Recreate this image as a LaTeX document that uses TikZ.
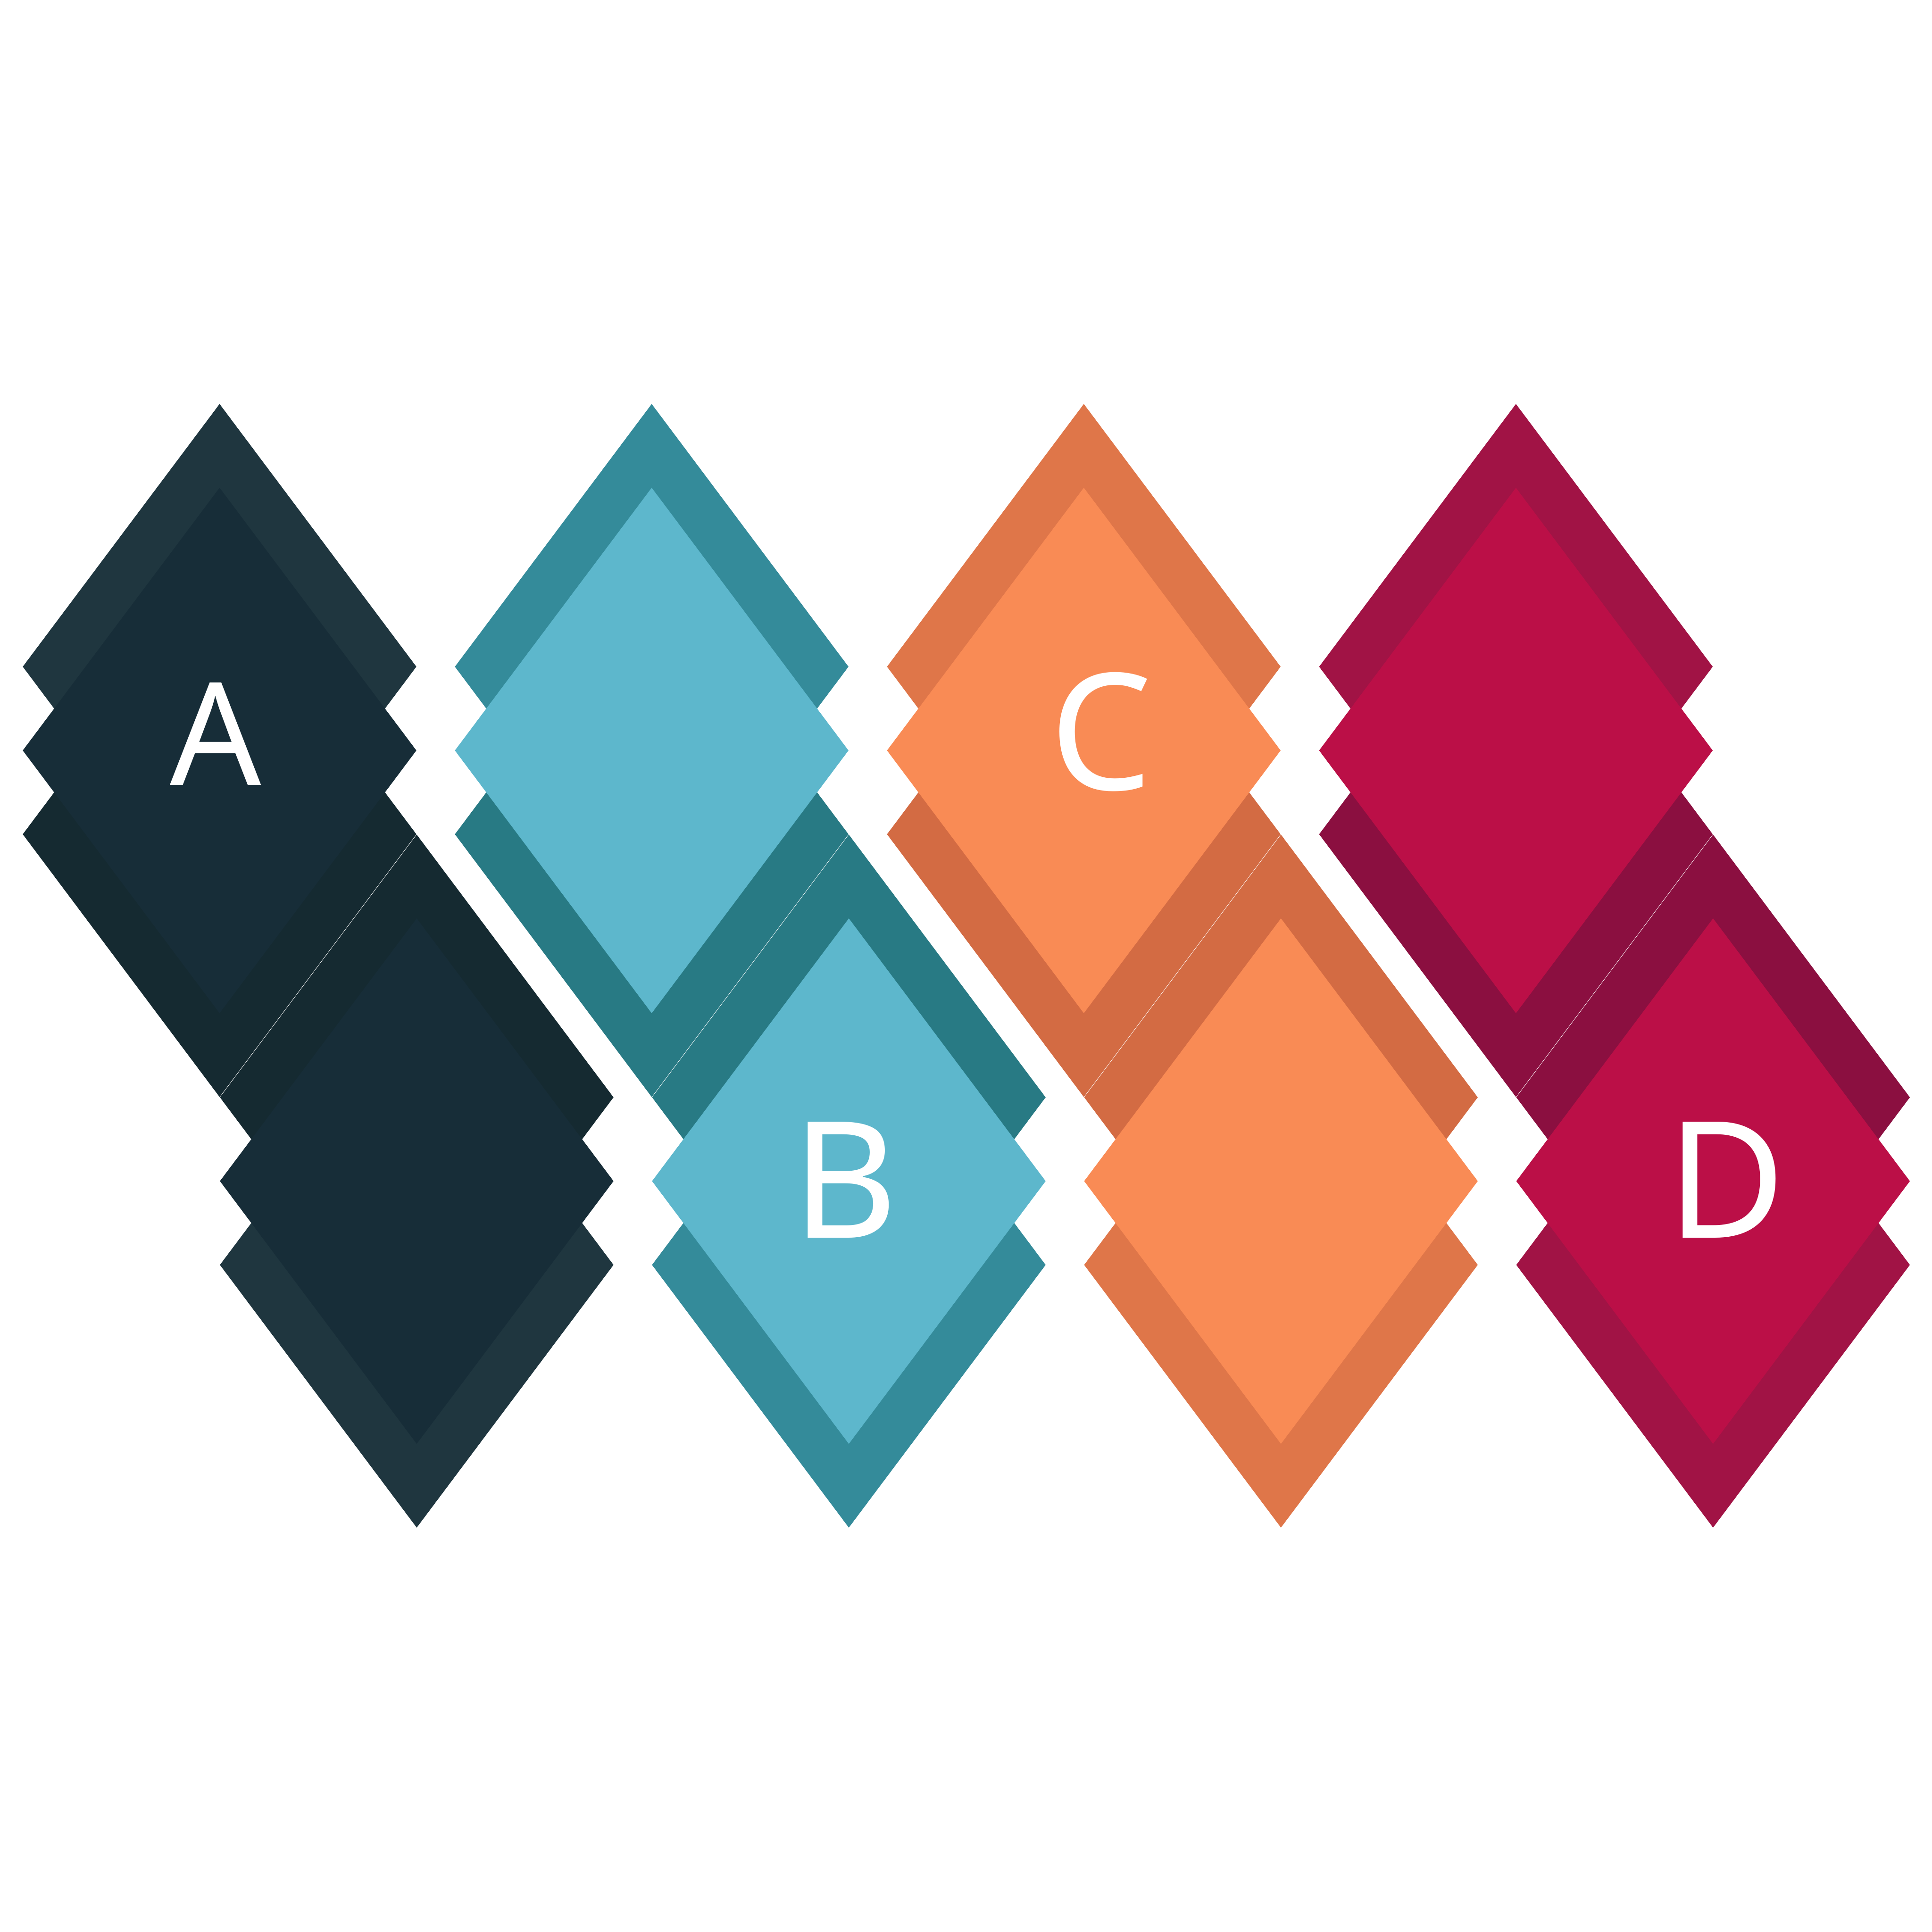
\documentclass[tikz,border=0pt]{standalone}
\usepackage{fontspec}
\setmainfont{Noto Sans}
\usetikzlibrary{shapes.geometric,positioning}

\definecolor{inkhi}{HTML}{1F363F}
\definecolor{inkmid}{HTML}{172D38}
\definecolor{inklo}{HTML}{152A31}
\definecolor{tealhi}{HTML}{348B9A}
\definecolor{tealmid}{HTML}{5DB7CC}
\definecolor{teallo}{HTML}{287A84}
\definecolor{peachhi}{HTML}{DF7649}
\definecolor{peachmid}{HTML}{F98B55}
\definecolor{peachlo}{HTML}{D36B43}
\definecolor{winehi}{HTML}{A11345}
\definecolor{winemid}{HTML}{BB0F47}
\definecolor{winelo}{HTML}{8B0F40}

\tikzset{
  gem/.style={diamond, inner sep=0pt, minimum width=3.2cm, minimum height=4.27cm},
  letter/.style={text=white, font=\fontsize{37.5}{37.5}\selectfont, anchor=base, inner sep=0pt},
}

\begin{document}
\begin{tikzpicture}
\useasboundingbox (0,0) rectangle (15.68,15.68);

\coordinate (a) at (1.782,9.589);
\coordinate (b) at (3.382,6.094);
\coordinate (c) at (5.289,9.589);
\coordinate (d) at (6.889,6.094);
\coordinate (e) at (8.796,9.589);
\coordinate (f) at (10.396,6.094);
\coordinate (g) at (12.303,9.589);
\coordinate (h) at (13.903,6.094);

% top row
\node[gem, fill=inkhi] (a-up) at ([yshift=6.8mm]a) {};
\node[gem, fill=inklo] (a-low) at ([yshift=-6.8mm]a) {};
\node[gem, fill=inkmid] (a-mid) at (a) {};

\node[gem, fill=tealhi] (c-up) at ([yshift=6.8mm]c) {};
\node[gem, fill=teallo] (c-low) at ([yshift=-6.8mm]c) {};
\node[gem, fill=tealmid] (c-mid) at (c) {};

\node[gem, fill=peachhi] (e-up) at ([yshift=6.8mm]e) {};
\node[gem, fill=peachlo] (e-low) at ([yshift=-6.8mm]e) {};
\node[gem, fill=peachmid] (e-mid) at (e) {};

\node[gem, fill=winehi] (g-up) at ([yshift=6.8mm]g) {};
\node[gem, fill=winelo] (g-low) at ([yshift=-6.8mm]g) {};
\node[gem, fill=winemid] (g-mid) at (g) {};

% bottom row
\node[gem, fill=inklo] (b-up) at ([yshift=6.8mm]b) {};
\node[gem, fill=inkhi] (b-low) at ([yshift=-6.8mm]b) {};
\node[gem, fill=inkmid] (b-mid) at (b) {};

\node[gem, fill=teallo] (d-up) at ([yshift=6.8mm]d) {};
\node[gem, fill=tealhi] (d-low) at ([yshift=-6.8mm]d) {};
\node[gem, fill=tealmid] (d-mid) at (d) {};

\node[gem, fill=peachlo] (f-up) at ([yshift=6.8mm]f) {};
\node[gem, fill=peachhi] (f-low) at ([yshift=-6.8mm]f) {};
\node[gem, fill=peachmid] (f-mid) at (f) {};

\node[gem, fill=winelo] (h-up) at ([yshift=6.8mm]h) {};
\node[gem, fill=winehi] (h-low) at ([yshift=-6.8mm]h) {};
\node[gem, fill=winemid] (h-mid) at (h) {};

\node[letter, font=\fontsize{33}{33}\selectfont] (a-txt) at ([xshift=-0.3mm,yshift=-2.8mm]a) {A};
\node[letter] (e-txt) at ([xshift=1.4mm,yshift=-3.2mm]e) {C};
\node[letter] (d-txt) at ([xshift=-0.3mm,yshift=-4.6mm]d) {B};
\node[letter] (h-txt) at ([xshift=1.1mm,yshift=-4.6mm]h) {D};
\end{tikzpicture}
\end{document}
